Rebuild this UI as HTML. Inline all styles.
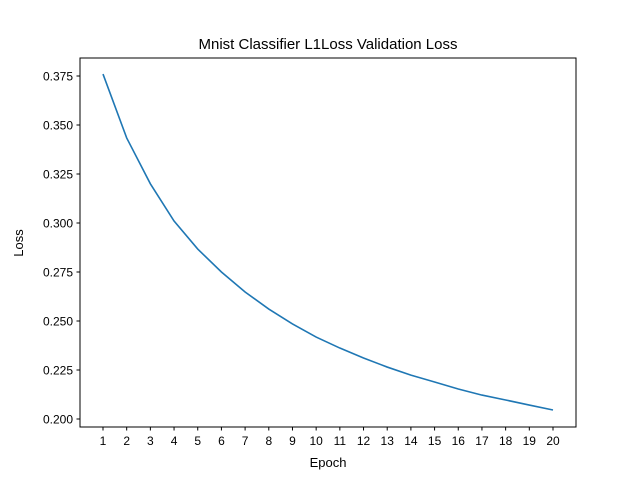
<!DOCTYPE html>
<html><head><meta charset="utf-8"><style>
body{margin:0;background:#fff;}
svg{display:block;font-family:"Liberation Sans","DejaVu Sans",sans-serif;}
</style></head><body>
<svg id="chart" width="640" height="480">
<rect width="640" height="480" fill="#fff"/>
<text x="328" y="49" font-size="15" text-anchor="middle">Mnist Classifier L1Loss Validation Loss</text>
<g id="axes"></g>
<rect x="80" y="58" width="496" height="369" fill="none" stroke="#000" stroke-width="1"/>
<text x="328" y="467" font-size="13" text-anchor="middle">Epoch</text>
<text x="23" y="243" font-size="13" text-anchor="middle" transform="rotate(-90 23 243)">Loss</text>
</svg>
<script>
const epochs=[1,2,3,4,5,6,7,8,9,10,11,12,13,14,15,16,17,18,19,20];
const losses=[0.376,0.3434,0.320,0.301,0.2867,0.275,0.2648,0.2561,0.2485,0.2418,0.2362,0.2311,0.2265,0.2224,0.2189,0.2153,0.2122,0.2097,0.2071,0.2046];
const yTicks=[0.200,0.225,0.250,0.275,0.300,0.325,0.350,0.375];
const ns="http://www.w3.org/2000/svg";
const g=document.getElementById('axes');
function xs(v){return 103+(v-1)*(553-103)/19;}
function ys(v){return 419-(v-0.2)*1960;}
function mk(t,a){const e=document.createElementNS(ns,t);for(const k in a)e.setAttribute(k,a[k]);g.appendChild(e);return e;}
epochs.forEach(e=>{
 const t=mk('line',{x1:xs(e),x2:xs(e),y1:427,y2:430.5,stroke:'#000'});
 
 
 const l=mk('text',{x:xs(e),y:445,'font-size':12,'text-anchor':'middle'});l.textContent=e;
 
 
});
yTicks.forEach(v=>{
 const t=mk('line',{x1:76.5,x2:80,y1:ys(v),y2:ys(v),stroke:'#000'});
 
 
 const l=mk('text',{x:73,y:ys(v)+4.5,'font-size':12,'text-anchor':'end'});l.textContent=v.toFixed(3);
 
 
});
const p=mk('polyline',{points:epochs.map((e,i)=>xs(e)+','+ys(losses[i])).join(' '),fill:'none',stroke:'#1f77b4','stroke-width':1.6});


</script>
</body></html>
